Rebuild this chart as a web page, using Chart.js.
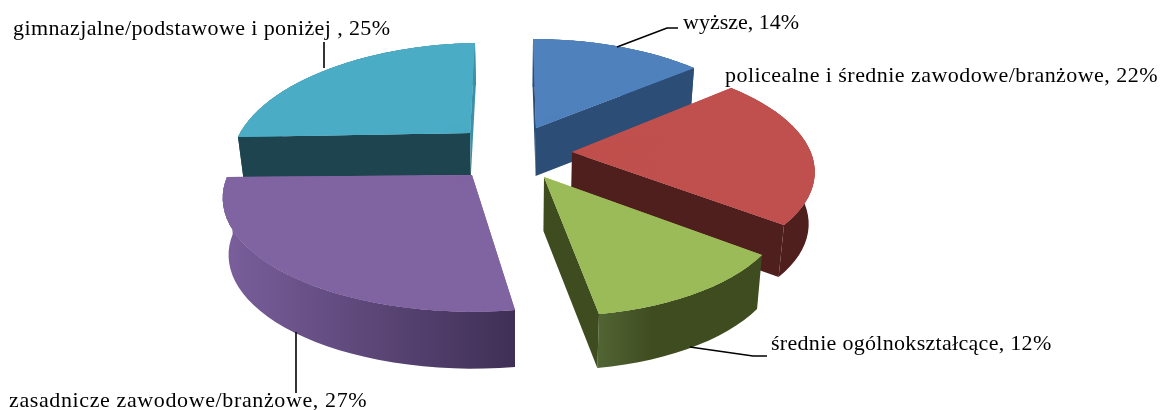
<!DOCTYPE html>
<html lang="pl">
<head>
<meta charset="utf-8">
<style>html,body{margin:0;padding:0;background:#fff}#wrap{width:1161px;height:410px}</style>
<script src="https://cdn.jsdelivr.net/npm/chart.js@4"></script>
</head>
<body>
<div id="wrap"><canvas id="c" width="1161" height="410"></canvas></div>
<script>
// ---- data ----
const categories = ["wyższe", "policealne i średnie zawodowe/branżowe", "średnie ogólnokształcące", "zasadnicze zawodowe/branżowe", "gimnazjalne/podstawowe i poniżej "];
const values = [14, 22, 12, 27, 25];
const faceColors = ["#4f81bd", "#c0504d", "#9bbb59", "#8064a2", "#4bacc6"];

// ---- 3D projection layout: one entry per slice ----
const apexes   = [[536,128],[572,152],[544,177],[472,175],[470,133]];
const rimStart = [[533,39],[731,88],[762,255],[515,310],[238,137]];
const rimEnd   = [[694,68],[784,225],[599,314],[227,177],[475,43]];
const perspQ   = [0.2,0.15,0.2,0.2,0.2];
const perspP   = [0,0,0,0,0];
const depths   = [48,52,54,57,42];
const wallStops = [
  ["#2c4d75","#2c4d75"],["#4f1f1e","#4f1f1e"],["#526534","#3f4c20","#3f4c20","#3f4c20"],["#7a5f9c","#3f2f55"],["#1e454f","#1e454f"]
];
const cutColorsStart = ["#2c4d75","#4f1f1e","#3f4c20","#3f2f55","#1e454f"];
const cutColorsEnd   = ["#2c4d75","#4f1f1e","#3f4c20","#3f2f55","#3f8fa8"];
const paintOrder = [0,4,1,2,3];
const vanishX = 515, shrink = 0.98;

// ---- labels ----
const labelPos = [[683,29],[725,82],[771,350],[9,407],[13,35]];
const labelSpacing = [0,0.45,0.3,0.62,0.4];
const leaders = [
  [[617,47],[667,28],[678,28]],
  null,
  [[690,347],[753,356],[767,356]],
  [[296,332],[296,393]],
  [[324,68],[324,42]]
];
const labelFont = '22px "Liberation Serif"';

function projector(i, a0, a1){
  const A = apexes[i], p = perspP[i], q = perspQ[i];
  const s0=Math.sin(a0), c0=Math.cos(a0), s1=Math.sin(a1), c1=Math.cos(a1);
  const w0=1+p*s0+q*c0, w1=1+p*s1+q*c1;
  const rx=[(rimStart[i][0]-A[0])*w0,(rimEnd[i][0]-A[0])*w1];
  const ry=[(rimStart[i][1]-A[1])*w0,(rimEnd[i][1]-A[1])*w1];
  const det=s0*c1-s1*c0;
  const ux=(rx[0]*c1-rx[1]*c0)/det, uy=(ry[0]*c1-ry[1]*c0)/det;
  const vx=(s0*rx[1]-s1*rx[0])/det, vy=(s0*ry[1]-s1*ry[0])/det;
  return t=>{
    const s=Math.sin(t), c=Math.cos(t), w=1+p*s+q*c;
    return [A[0]+(ux*s+vx*c)/w, A[1]+(uy*s+vy*c)/w];
  };
}
const below=(P,i)=>[vanishX+(P[0]-vanishX)*shrink, P[1]+depths[i]];
function poly(ctx,pts,fill){
  ctx.beginPath();pts.forEach((P,k)=>k?ctx.lineTo(P[0],P[1]):ctx.moveTo(P[0],P[1]));ctx.closePath();
  ctx.fillStyle=fill;ctx.fill();
}
const STEP=Math.PI/60;
function drawSlice(ctx,arc,i){
  const a0=arc.startAngle+Math.PI/2, a1=arc.endAngle+Math.PI/2;
  const rim=projector(i,a0,a1);
  const A=apexes[i];
  const n=Math.max(1,Math.ceil((a1-a0)/STEP));
  const top=[],bot=[];
  for(let k=0;k<=n;k++){const P=rim(a0+(a1-a0)*k/n);top.push(P);bot.push(below(P,i));}
  // outer wall
  const xs=top.concat(bot).map(P=>P[0]);
  const g=ctx.createLinearGradient(Math.min(...xs),0,Math.max(...xs),0);
  wallStops[i].forEach((col,k,list)=>g.addColorStop(k/(list.length-1),col));
  poly(ctx,top.concat(bot.slice().reverse()),g);
  // visible radial cut walls
  const M=rim((a0+a1)/2);
  [[top[0],cutColorsStart[i]],[top[n],cutColorsEnd[i]]].forEach(([P,col])=>{
    const dx=P[0]-A[0],dy=P[1]-A[1];
    const cr=dx*(M[1]-A[1])-dy*(M[0]-A[0]);
    if((dx>0&&cr<0)||(dx<0&&cr>0)) poly(ctx,[A,P,below(P,i),below(A,i)],col);
  });
  // solid base so that wedge seams cannot show what is under the face
  poly(ctx,[A].concat(top),faceColors[i]);
  // top face: the chart's own arc element, drawn wedge by wedge through the projection
  const sa=arc.startAngle, ea=arc.endAngle, cx=arc.x, cy=arc.y, R=arc.outerRadius;
  const ov=0.006;
  for(let k=0;k<n;k++){
    const t0=a0+(a1-a0)*k/n, t1=a0+(a1-a0)*(k+1)/n;
    const s1x=R*Math.sin(t0), s1y=-R*Math.cos(t0), s2x=R*Math.sin(t1), s2y=-R*Math.cos(t1);
    const T1=rim(t0),T2=rim(t1);
    const t1x=T1[0]-A[0],t1y=T1[1]-A[1],t2x=T2[0]-A[0],t2y=T2[1]-A[1];
    const det=s1x*s2y-s2x*s1y;
    const a=(t1x*s2y-t2x*s1y)/det, c=(t2x*s1x-t1x*s2x)/det;
    const b=(t1y*s2y-t2y*s1y)/det, d=(t2y*s1x-t1y*s2x)/det;
    ctx.save();
    ctx.setTransform(a,b,c,d,A[0]-a*cx-c*cy,A[1]-b*cx-d*cy);
    arc.startAngle=Math.max(sa,t0-Math.PI/2-ov);
    arc.endAngle=Math.min(ea,t1-Math.PI/2+ov);
    arc.draw(ctx);
    ctx.restore();
  }
  arc.startAngle=sa;arc.endAngle=ea;
}
const pie3d={
  id:'pie3d',
  beforeDatasetDraw(chart){
    const ctx=chart.ctx, arcs=chart.getDatasetMeta(0).data;
    paintOrder.forEach(i=>drawSlice(ctx,arcs[i],i));
    return false;
  },
  afterDraw(chart){
    const ctx=chart.ctx;
    ctx.save();
    ctx.setTransform(1,0,0,1,0,0);
    ctx.strokeStyle='#000';ctx.lineWidth=1.6;
    leaders.forEach(L=>{if(!L)return;ctx.beginPath();L.forEach((P,k)=>k?ctx.lineTo(P[0],P[1]):ctx.moveTo(P[0],P[1]));ctx.stroke();});
    ctx.fillStyle='#000';ctx.font=labelFont;ctx.textBaseline='alphabetic';ctx.textAlign='left';
    categories.forEach((cat,i)=>{
      ctx.letterSpacing=labelSpacing[i]+'px';
      ctx.fillText(cat+', '+values[i]+'%',labelPos[i][0],labelPos[i][1]);
    });
    ctx.restore();
  }
};
new Chart(document.getElementById('c'),{
  type:'pie',
  data:{labels:categories,datasets:[{data:values,backgroundColor:faceColors,borderWidth:0}]},
  options:{responsive:false,animation:false,rotation:0,
    plugins:{legend:{display:false},tooltip:{enabled:false}}},
  plugins:[pie3d]
});
</script>
</body>
</html>
